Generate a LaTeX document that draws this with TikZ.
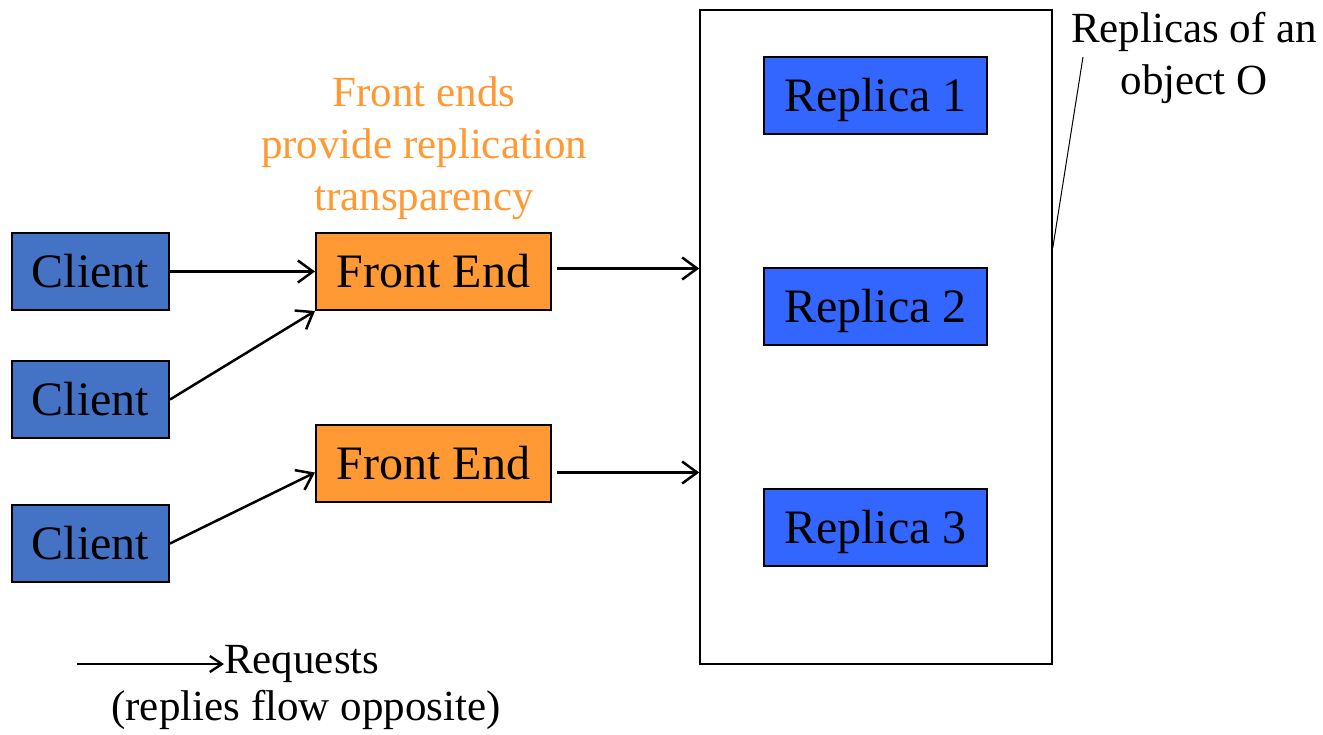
\documentclass[tikz,border=0pt]{standalone}
\usepackage{fontspec}
\setmainfont{Liberation Serif}
\usetikzlibrary{arrows.meta}
\definecolor{clientblue}{RGB}{68,114,196}
\definecolor{replicablue}{RGB}{51,102,255}
\definecolor{feorange}{RGB}{255,153,51}

\begin{document}
\begin{tikzpicture}[x=1pt,y=-1pt,
  box/.style={draw, line width=2pt, inner sep=0pt, minimum height=77pt, text height=32pt, text depth=0pt, font=\fontsize{48}{52}\selectfont},
  client/.style={box, fill=clientblue, minimum width=157pt},
  frontend/.style={box, fill=feorange, minimum width=235pt},
  replica/.style={box, fill=replicablue, minimum width=223pt},
  label/.style={font=\fontsize{43}{52}\selectfont, align=center, inner sep=0pt},
  request/.style={line width=2.5pt, -{Straight Barb[length=15pt,width=22pt,line width=2.5pt]}}]
  \useasboundingbox (0,0) rectangle (1323,734);

  % object with its replicas
  \node[draw, line width=1.5pt, minimum width=352pt, minimum height=654pt] (obj) at (876,337) {};
  \node[replica] (r1) at (875.5,95.5) {Replica 1};
  \node[replica] (r2) at (875.5,306.5) {Replica 2};
  \node[replica] (r3) at (875.5,527.5) {Replica 3};

  % clients and front ends
  \node[client] (c1) at (90.5,271.5) {Client};
  \node[client] (c2) at (90.5,399.5) {Client};
  \node[client] (c3) at (90.5,543.5) {Client};
  \node[frontend] (fe1) at (433.5,271.5) {Front End};
  \node[frontend] (fe2) at (433.5,463.5) {Front End};

  \node[label, text=feorange] (note) at (424,148) {Front ends\\provide replication\\transparency};
  \node[label] (objlabel) at (1194,58) {Replicas of an\\object O};
  \coordinate (callout) at (1083,57);

  \draw[request] (c1) -- (fe1);
  \draw[request] (c2.east) -- (fe1.south west);
  \draw[request] (c3.east) -- ([yshift=-9pt]fe2.west);
  \draw[request] ([xshift=5pt,yshift=3pt]fe1.east) -- ([yshift=3pt]fe1.east -| obj.west);
  \draw[request] ([xshift=5pt,yshift=-9pt]fe2.east) -- ([yshift=-9pt]fe2.east -| obj.west);
  \draw[line width=1pt] ([yshift=89pt]obj.east) -- (callout);

  % legend
  \node[label, anchor=west] (req) at (224,664) {Requests};
  \node[label, anchor=base] (reply) at (306,720) {(replies flow opposite)};
  \coordinate (leg) at (77,664);
  \draw[line width=2.4pt, -{Straight Barb[length=12pt,width=16pt,line width=2.4pt]}] (leg) -- (req.west);
\end{tikzpicture}
\end{document}
